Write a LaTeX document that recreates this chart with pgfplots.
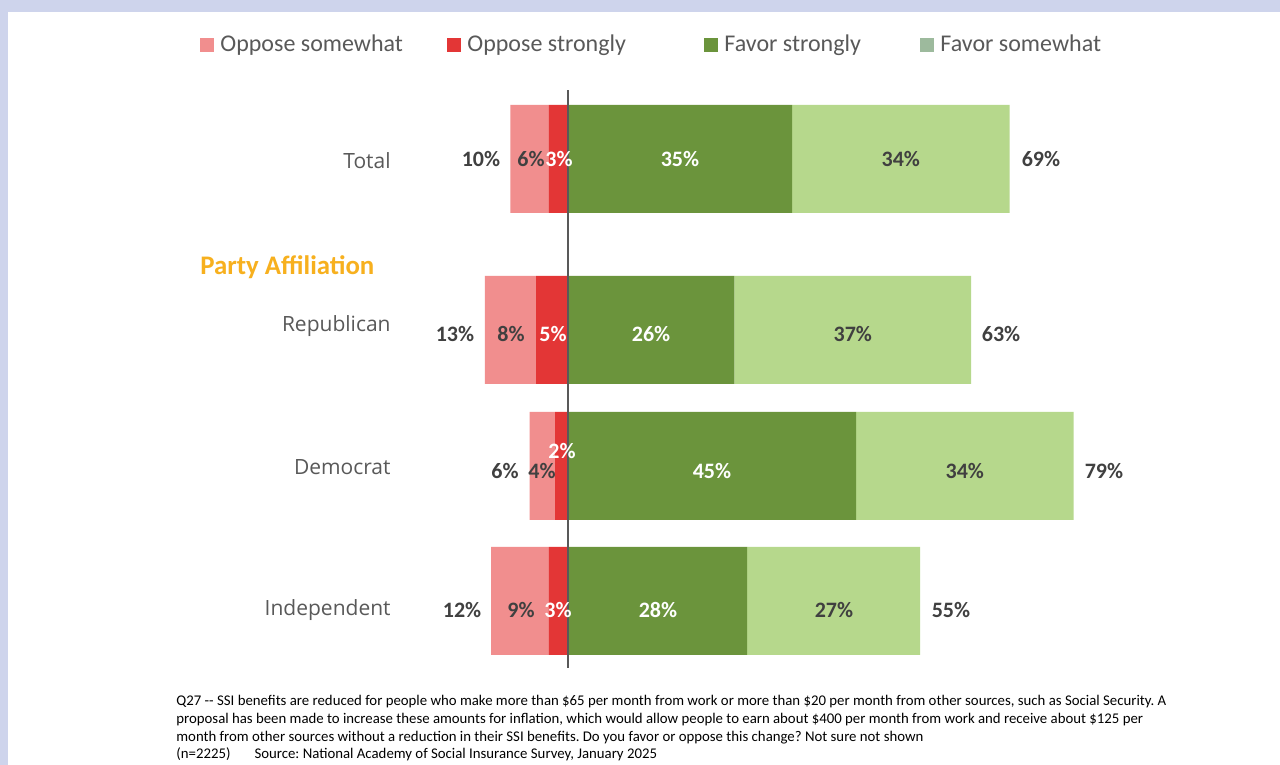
\documentclass[border=0pt]{standalone}
\usepackage{pgfplots}
\pgfplotsset{compat=1.18}
\usepackage{fontspec}
\setmainfont{Carlito}
\newfontfamily\catfont{Open Sans}
\definecolor{frame}{RGB}{206,212,236}
\definecolor{oppsw}{RGB}{241,142,142}
\definecolor{oppst}{RGB}{227,54,54}
\definecolor{favst}{RGB}{107,148,60}
\definecolor{favsw}{RGB}{182,216,140}
\definecolor{favswleg}{RGB}{157,186,157}
\definecolor{txtgray}{RGB}{89,89,89}
\definecolor{lbldark}{RGB}{64,64,64}
\definecolor{party}{RGB}{247,176,30}
\pgfplotsset{base/.style={at={(0,0)}, anchor=south west, scale only axis,
  width=640pt, height=382.5pt, xmin=-88.75, xmax=111.25, ymin=0, ymax=765,
  hide axis, clip=false}}
\pgfplotsset{lbl/.style={draw=none, mark=none, nodes near coords, point meta=explicit symbolic,
  nodes near coords style={anchor=center, inner sep=0pt, font=\bfseries\fontsize{11}{13}\selectfont, text=#1}}}
\pgfplotstableread{
y st sw
606 -3 -6
435 -5 -8
299 -2 -4
164 -3 -9
}\oppose
\pgfplotstableread{
y st sw
606 35 34
435 26 37
299 45 34
164 28 27
}\favor
\begin{document}
\frenchspacing
\begin{tikzpicture}
\fill[white] (0,0) rectangle (640pt,382.5pt);
\fill[frame] (0,376.5pt) rectangle (640pt,382.5pt);
\fill[frame] (0,0) rectangle (4pt,382.5pt);
\begin{axis}[base, xbar stacked, bar width=108]
\addplot[fill=oppst, draw=none] table[x=st, y=y] {\oppose};
\addplot[fill=oppsw, draw=none] table[x=sw, y=y] {\oppose};
\end{axis}
\begin{axis}[base, xbar stacked, bar width=108]
\addplot[fill=favst, draw=none] table[x=st, y=y] {\favor};
\addplot[fill=favsw, draw=none] table[x=sw, y=y] {\favor};
\end{axis}
\begin{axis}[base,
  legend columns=4,
  legend image code/.code={\fill[#1, draw=none] (0pt,-3.5pt) rectangle (7pt,3.5pt);},
  legend style={at={(axis cs:-57.5,720)}, anchor=west, draw=none, fill=none,
    inner sep=0pt, font=\fontsize{12}{14}\selectfont, text=txtgray,
    nodes={inner xsep=3pt, inner ysep=0pt},
    /tikz/every even column/.style={column sep=0pt}},
  legend cell align=left]
\addlegendimage{fill=oppsw, draw=none}
\addlegendentry{\makebox[110.5pt][l]{Oppose somewhat}}
\addlegendimage{fill=oppst, draw=none}
\addlegendentry{\makebox[115.5pt][l]{Oppose strongly}}
\addlegendimage{fill=favst, draw=none}
\addlegendentry{\makebox[95pt][l]{Favor strongly}}
\addlegendimage{fill=favswleg, draw=none}
\addlegendentry{Favor somewhat}
\addplot[txtgray, line width=1pt, forget plot] coordinates {(0,97) (0,675)};
\addplot[lbl=lbldark, forget plot] table[meta=label] {
x y label
-13.6 606 10\%
-5.78 606 6\%
52.0 606 34\%
73.9 606 69\%
-17.66 431 13\%
-8.9 431 8\%
44.5 431 37\%
67.66 431 63\%
-9.84 294 6\%
-4.06 294 4\%
62.0 294 34\%
83.75 294 79\%
-16.56 155 12\%
-7.34 155 9\%
41.56 155 27\%
59.84 155 55\%
};
\addplot[lbl=white, forget plot] table[meta=label] {
x y label
-1.4 606 3\%
17.5 606 35\%
-2.34 431 5\%
12.97 431 26\%
-0.94 314 2\%
22.5 294 45\%
-1.56 155 3\%
14.06 155 28\%
};
\begin{scope}[every node/.style={anchor=east, inner sep=0pt, font=\catfont\fontsize{10.5}{12}\selectfont, text=txtgray}]
\node at (axis cs:-27.66,604) {Total};
\node at (axis cs:-27.66,439) {Republican};
\node at (axis cs:-27.66,298) {Democrat};
\node at (axis cs:-27.66,155) {Independent};
\end{scope}
\node[anchor=west, inner sep=0pt, font=\bfseries\fontsize{13.4}{15}\selectfont, text=party] at (axis cs:-57.5,498) {Party Affiliation};
\node[anchor=north west, inner sep=0pt, align=left, font=\fontsize{7.4}{8.85}\selectfont] at (axis cs:-61.25,70) {Q27 -{}- SSI benefits are reduced for people who make more than \$65 per month from work or more than \$20 per month from other sources, such as Social Security. A\\
proposal has been made to increase these amounts for inflation, which would allow people to earn about \$400 per month from work and receive about \$125 per\\
month from other sources without a reduction in their SSI benefits. Do you favor or oppose this change? Not sure not shown\\
(n=2225)\hspace{12pt}Source: National Academy of Social Insurance Survey, January 2025};
\end{axis}
\end{tikzpicture}
\end{document}
